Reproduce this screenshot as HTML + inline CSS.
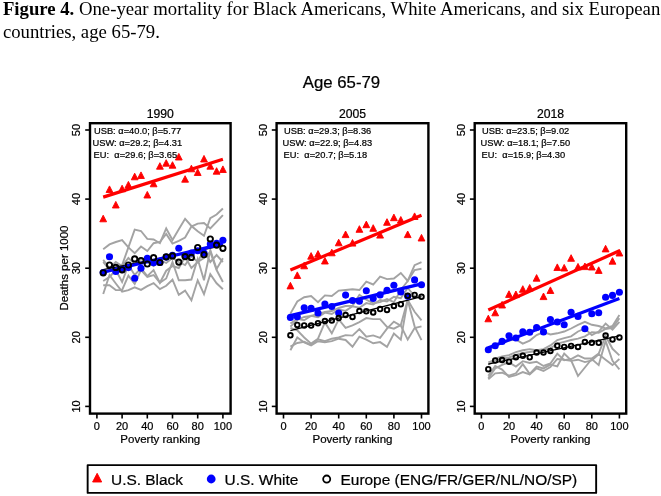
<!DOCTYPE html>
<html><head><meta charset="utf-8"><title>Figure 4</title>
<style>html,body{margin:0;padding:0;background:#fff}svg{display:block}text{font-family:"Liberation Sans",sans-serif;fill:#000;stroke:#000;stroke-width:0.22px}.cap{font-family:"Liberation Serif",serif;font-size:18.73px;fill:#000;stroke:none}.tk{font-size:11px}.ax{font-size:11.5px}.an{font-size:9.3px}.pt{font-size:12.2px}.lg{font-size:15.45px}</style></head><body>
<svg width="661" height="496" viewBox="0 0 661 496">
<rect width="661" height="496" fill="#fff"/>
<text class="cap" x="2.9" y="15.4"><tspan font-weight="bold">Figure 4.</tspan> One-year mortality for Black Americans, White Americans, and six European</text>
<text class="cap" x="2.9" y="38.0">countries, age 65-79.</text>
<text x="341.5" y="87.8" text-anchor="middle" font-size="16.8">Age 65-79</text>
<g>
<text class="pt" x="160.3" y="117.7" text-anchor="middle">1990</text>
<polyline points="103.2,249.2 109.5,244.4 115.8,242.0 122.1,240.1 128.4,247.4 134.7,253.1 141.0,246.5 147.3,251.0 153.6,243.2 159.9,242.0 166.2,233.9 172.5,243.6 178.8,240.9 185.1,237.5 191.4,226.6 197.7,223.6 204.0,223.0 210.3,228.5 216.6,221.8 222.9,215.1" fill="none" stroke="#a3a3a3" stroke-width="1.9" stroke-linejoin="miter"/>
<polyline points="103.2,262.0 109.5,270.0 115.8,268.0 122.1,265.0 128.4,247.4 134.7,229.6 141.0,231.0 147.3,238.9 153.6,239.5 159.9,243.2 166.2,228.5 172.5,240.0 178.8,229.3 185.1,218.8 191.4,226.0 197.7,231.2 204.0,235.7 210.3,218.2 216.6,214.5 222.9,208.5" fill="none" stroke="#a3a3a3" stroke-width="1.9" stroke-linejoin="miter"/>
<polyline points="103.2,294.0 109.5,275.0 115.8,283.5 122.1,291.7 128.4,290.1 134.7,287.4 141.0,289.9 147.3,286.2 153.6,283.1 159.9,289.2 166.2,285.8 172.5,279.7 178.8,294.8 185.1,290.6 191.4,300.2 197.7,280.3 204.0,294.2 210.3,274.2 216.6,283.3 222.9,289.3" fill="none" stroke="#a3a3a3" stroke-width="1.9" stroke-linejoin="miter"/>
<polyline points="103.2,285.3 109.5,285.3 115.8,290.1 122.1,290.0 128.4,275.6 134.7,284.0 141.0,270.0 147.3,277.0 153.6,275.0 159.9,282.7 166.2,278.5 172.5,262.0 178.8,280.2 185.1,280.2 191.4,279.5 197.7,259.0 204.0,280.2 210.3,250.0 216.6,269.0 222.9,258.3" fill="none" stroke="#a3a3a3" stroke-width="1.9" stroke-linejoin="miter"/>
<polyline points="103.2,281.0 109.5,277.0 115.8,270.0 122.1,282.0 128.4,265.0 134.7,275.0 141.0,268.3 147.3,276.2 153.6,270.1 159.9,282.8 166.2,270.7 172.5,266.0 178.8,268.0 185.1,257.0 191.4,268.0 197.7,262.0 204.0,258.0 210.3,252.0 216.6,270.0 222.9,282.0" fill="none" stroke="#a3a3a3" stroke-width="1.9" stroke-linejoin="miter"/>
<polyline points="103.2,259.8 109.5,268.0 115.8,262.0 122.1,266.0 128.4,258.0 134.7,264.0 141.0,259.0 147.3,262.0 153.6,266.0 159.9,260.0 166.2,263.0 172.5,258.0 178.8,262.0 185.1,265.0 191.4,256.0 197.7,262.0 204.0,250.0 210.3,262.0 216.6,255.0 222.9,262.0" fill="none" stroke="#a3a3a3" stroke-width="1.9" stroke-linejoin="miter"/>
<line x1="103.2" y1="197.1" x2="222.9" y2="159.2" stroke="#ff0000" stroke-width="3.2"/>
<path d="M99.8 221.8L106.6 221.8L103.2 215.2Z" fill="#ff0000" stroke="#ff0000" stroke-width="0.9" stroke-linejoin="round"/>
<path d="M106.1 192.5L112.9 192.5L109.5 185.9Z" fill="#ff0000" stroke="#ff0000" stroke-width="0.9" stroke-linejoin="round"/>
<path d="M112.4 208.0L119.2 208.0L115.8 201.4Z" fill="#ff0000" stroke="#ff0000" stroke-width="0.9" stroke-linejoin="round"/>
<path d="M118.7 191.8L125.5 191.8L122.1 185.2Z" fill="#ff0000" stroke="#ff0000" stroke-width="0.9" stroke-linejoin="round"/>
<path d="M125.0 188.0L131.8 188.0L128.4 181.4Z" fill="#ff0000" stroke="#ff0000" stroke-width="0.9" stroke-linejoin="round"/>
<path d="M131.3 179.8L138.1 179.8L134.7 173.2Z" fill="#ff0000" stroke="#ff0000" stroke-width="0.9" stroke-linejoin="round"/>
<path d="M137.6 178.5L144.4 178.5L141.0 171.9Z" fill="#ff0000" stroke="#ff0000" stroke-width="0.9" stroke-linejoin="round"/>
<path d="M143.9 198.0L150.7 198.0L147.3 191.4Z" fill="#ff0000" stroke="#ff0000" stroke-width="0.9" stroke-linejoin="round"/>
<path d="M150.2 186.8L157.0 186.8L153.6 180.2Z" fill="#ff0000" stroke="#ff0000" stroke-width="0.9" stroke-linejoin="round"/>
<path d="M156.5 169.2L163.3 169.2L159.9 162.7Z" fill="#ff0000" stroke="#ff0000" stroke-width="0.9" stroke-linejoin="round"/>
<path d="M162.8 166.2L169.6 166.2L166.2 159.7Z" fill="#ff0000" stroke="#ff0000" stroke-width="0.9" stroke-linejoin="round"/>
<path d="M169.1 168.2L175.9 168.2L172.5 161.7Z" fill="#ff0000" stroke="#ff0000" stroke-width="0.9" stroke-linejoin="round"/>
<path d="M175.4 160.0L182.2 160.0L178.8 153.4Z" fill="#ff0000" stroke="#ff0000" stroke-width="0.9" stroke-linejoin="round"/>
<path d="M181.7 182.2L188.5 182.2L185.1 175.7Z" fill="#ff0000" stroke="#ff0000" stroke-width="0.9" stroke-linejoin="round"/>
<path d="M188.0 171.8L194.8 171.8L191.4 165.2Z" fill="#ff0000" stroke="#ff0000" stroke-width="0.9" stroke-linejoin="round"/>
<path d="M194.3 175.5L201.1 175.5L197.7 168.9Z" fill="#ff0000" stroke="#ff0000" stroke-width="0.9" stroke-linejoin="round"/>
<path d="M200.6 162.0L207.4 162.0L204.0 155.4Z" fill="#ff0000" stroke="#ff0000" stroke-width="0.9" stroke-linejoin="round"/>
<path d="M206.9 169.2L213.7 169.2L210.3 162.7Z" fill="#ff0000" stroke="#ff0000" stroke-width="0.9" stroke-linejoin="round"/>
<path d="M213.2 174.2L220.0 174.2L216.6 167.7Z" fill="#ff0000" stroke="#ff0000" stroke-width="0.9" stroke-linejoin="round"/>
<path d="M219.5 172.5L226.3 172.5L222.9 165.9Z" fill="#ff0000" stroke="#ff0000" stroke-width="0.9" stroke-linejoin="round"/>
<line x1="103.2" y1="269.7" x2="222.9" y2="245.7" stroke="#000000" stroke-width="1.3"/>
<line x1="103.2" y1="272.2" x2="222.9" y2="243.9" stroke="#0000ff" stroke-width="3.2"/>
<circle cx="103.2" cy="272.5" r="3.55" fill="#0000ff"/>
<circle cx="109.5" cy="256.7" r="3.55" fill="#0000ff"/>
<circle cx="115.8" cy="271.4" r="3.55" fill="#0000ff"/>
<circle cx="122.1" cy="269.8" r="3.55" fill="#0000ff"/>
<circle cx="128.4" cy="267.6" r="3.55" fill="#0000ff"/>
<circle cx="134.7" cy="278.3" r="3.55" fill="#0000ff"/>
<circle cx="141.0" cy="268.2" r="3.55" fill="#0000ff"/>
<circle cx="147.3" cy="258.3" r="3.55" fill="#0000ff"/>
<circle cx="153.6" cy="262.8" r="3.55" fill="#0000ff"/>
<circle cx="159.9" cy="262.5" r="3.55" fill="#0000ff"/>
<circle cx="166.2" cy="257.1" r="3.55" fill="#0000ff"/>
<circle cx="172.5" cy="255.3" r="3.55" fill="#0000ff"/>
<circle cx="178.8" cy="248.3" r="3.55" fill="#0000ff"/>
<circle cx="185.1" cy="255.5" r="3.55" fill="#0000ff"/>
<circle cx="191.4" cy="253.0" r="3.55" fill="#0000ff"/>
<circle cx="197.7" cy="250.8" r="3.55" fill="#0000ff"/>
<circle cx="204.0" cy="253.0" r="3.55" fill="#0000ff"/>
<circle cx="210.3" cy="244.1" r="3.55" fill="#0000ff"/>
<circle cx="216.6" cy="243.4" r="3.55" fill="#0000ff"/>
<circle cx="222.9" cy="240.3" r="3.55" fill="#0000ff"/>
<circle cx="103.2" cy="272.8" r="2.65" fill="none" stroke="#000" stroke-width="1.9"/>
<circle cx="109.5" cy="265.0" r="2.65" fill="none" stroke="#000" stroke-width="1.9"/>
<circle cx="115.8" cy="267.4" r="2.65" fill="none" stroke="#000" stroke-width="1.9"/>
<circle cx="122.1" cy="269.8" r="2.65" fill="none" stroke="#000" stroke-width="1.9"/>
<circle cx="128.4" cy="265.0" r="2.65" fill="none" stroke="#000" stroke-width="1.9"/>
<circle cx="134.7" cy="258.9" r="2.65" fill="none" stroke="#000" stroke-width="1.9"/>
<circle cx="141.0" cy="260.5" r="2.65" fill="none" stroke="#000" stroke-width="1.9"/>
<circle cx="147.3" cy="264.0" r="2.65" fill="none" stroke="#000" stroke-width="1.9"/>
<circle cx="153.6" cy="257.7" r="2.65" fill="none" stroke="#000" stroke-width="1.9"/>
<circle cx="159.9" cy="262.5" r="2.65" fill="none" stroke="#000" stroke-width="1.9"/>
<circle cx="166.2" cy="256.8" r="2.65" fill="none" stroke="#000" stroke-width="1.9"/>
<circle cx="172.5" cy="255.9" r="2.65" fill="none" stroke="#000" stroke-width="1.9"/>
<circle cx="178.8" cy="262.1" r="2.65" fill="none" stroke="#000" stroke-width="1.9"/>
<circle cx="185.1" cy="256.6" r="2.65" fill="none" stroke="#000" stroke-width="1.9"/>
<circle cx="191.4" cy="257.4" r="2.65" fill="none" stroke="#000" stroke-width="1.9"/>
<circle cx="197.7" cy="247.5" r="2.65" fill="none" stroke="#000" stroke-width="1.9"/>
<circle cx="204.0" cy="254.7" r="2.65" fill="none" stroke="#000" stroke-width="1.9"/>
<circle cx="210.3" cy="239.0" r="2.65" fill="none" stroke="#000" stroke-width="1.9"/>
<circle cx="216.6" cy="245.1" r="2.65" fill="none" stroke="#000" stroke-width="1.9"/>
<circle cx="222.9" cy="248.3" r="2.65" fill="none" stroke="#000" stroke-width="1.9"/>
<rect x="90.0" y="123.2" width="140.6" height="290.4" fill="none" stroke="#000" stroke-width="2.4"/>
<line x1="85.2" y1="406.4" x2="90.0" y2="406.4" stroke="#000" stroke-width="1.6"/>
<text class="tk" transform="translate(80.4 406.4) rotate(-90)" text-anchor="middle">10</text>
<line x1="85.2" y1="337.3" x2="90.0" y2="337.3" stroke="#000" stroke-width="1.6"/>
<text class="tk" transform="translate(80.4 337.3) rotate(-90)" text-anchor="middle">20</text>
<line x1="85.2" y1="268.2" x2="90.0" y2="268.2" stroke="#000" stroke-width="1.6"/>
<text class="tk" transform="translate(80.4 268.2) rotate(-90)" text-anchor="middle">30</text>
<line x1="85.2" y1="199.1" x2="90.0" y2="199.1" stroke="#000" stroke-width="1.6"/>
<text class="tk" transform="translate(80.4 199.1) rotate(-90)" text-anchor="middle">40</text>
<line x1="85.2" y1="130.0" x2="90.0" y2="130.0" stroke="#000" stroke-width="1.6"/>
<text class="tk" transform="translate(80.4 130.0) rotate(-90)" text-anchor="middle">50</text>
<line x1="96.9" y1="413.6" x2="96.9" y2="418.5" stroke="#000" stroke-width="1.6"/>
<text class="tk" x="96.9" y="429.8" text-anchor="middle">0</text>
<line x1="122.1" y1="413.6" x2="122.1" y2="418.5" stroke="#000" stroke-width="1.6"/>
<text class="tk" x="122.1" y="429.8" text-anchor="middle">20</text>
<line x1="147.3" y1="413.6" x2="147.3" y2="418.5" stroke="#000" stroke-width="1.6"/>
<text class="tk" x="147.3" y="429.8" text-anchor="middle">40</text>
<line x1="172.5" y1="413.6" x2="172.5" y2="418.5" stroke="#000" stroke-width="1.6"/>
<text class="tk" x="172.5" y="429.8" text-anchor="middle">60</text>
<line x1="197.7" y1="413.6" x2="197.7" y2="418.5" stroke="#000" stroke-width="1.6"/>
<text class="tk" x="197.7" y="429.8" text-anchor="middle">80</text>
<line x1="222.9" y1="413.6" x2="222.9" y2="418.5" stroke="#000" stroke-width="1.6"/>
<text class="tk" x="222.9" y="429.8" text-anchor="middle">100</text>
<text class="ax" x="160.3" y="442.6" text-anchor="middle">Poverty ranking</text>
<text class="an" x="94.0" y="134" xml:space="preserve">USB: α=40.0; β=5.77</text>
<text class="an" x="92.5" y="146" xml:space="preserve">USW: α=29.2; β=4.31</text>
<text class="an" x="93.6" y="158" xml:space="preserve">EU:  α=29.6; β=3.65</text>
</g>
<g>
<text class="pt" x="352.5" y="117.7" text-anchor="middle">2005</text>
<polyline points="290.4,313.6 297.3,301.5 304.2,297.2 311.1,296.0 318.0,302.1 324.9,295.4 331.8,296.0 338.7,290.6 345.6,290.0 352.5,289.3 359.4,290.0 366.3,281.7 373.2,284.5 380.1,276.6 387.0,279.1 393.9,278.5 400.8,273.0 407.7,280.9 414.6,265.1 421.5,262.1" fill="none" stroke="#a3a3a3" stroke-width="1.9" stroke-linejoin="miter"/>
<polyline points="290.4,326.6 297.3,320.0 304.2,317.0 311.1,316.0 318.0,314.0 324.9,312.0 331.8,311.0 338.7,308.0 345.6,306.0 352.5,305.7 359.4,294.8 366.3,299.7 373.2,303.3 380.1,302.1 387.0,299.1 393.9,302.1 400.8,290.0 407.7,281.0 414.6,270.0 421.5,268.8" fill="none" stroke="#a3a3a3" stroke-width="1.9" stroke-linejoin="miter"/>
<polyline points="290.4,323.5 297.3,318.9 304.2,320.3 311.1,315.8 318.0,317.2 324.9,312.6 331.8,314.0 338.7,309.4 345.6,310.9 352.5,306.3 359.4,307.7 366.3,303.1 373.2,304.6 380.1,300.0 387.0,301.4 393.9,296.8 400.8,298.2 407.7,288.0 414.6,296.0 421.5,299.0" fill="none" stroke="#a3a3a3" stroke-width="1.9" stroke-linejoin="miter"/>
<polyline points="290.4,327.8 297.3,330.3 304.2,337.5 311.1,343.6 318.0,338.7 324.9,322.4 331.8,333.3 338.7,319.4 345.6,327.8 352.5,325.3 359.4,322.1 366.3,318.1 373.2,319.1 380.1,319.1 387.0,326.9 393.9,328.7 400.8,325.1 407.7,300.0 414.6,311.8 421.5,320.3" fill="none" stroke="#a3a3a3" stroke-width="1.9" stroke-linejoin="miter"/>
<polyline points="290.4,346.6 297.3,343.0 304.2,341.8 311.1,344.8 318.0,339.3 324.9,341.2 331.8,338.7 338.7,337.5 345.6,335.1 352.5,335.6 359.4,329.0 366.3,336.6 373.2,335.4 380.1,337.8 387.0,328.7 393.9,321.7 400.8,325.7 407.7,339.6 414.6,328.1 421.5,326.3" fill="none" stroke="#a3a3a3" stroke-width="1.9" stroke-linejoin="miter"/>
<polyline points="290.4,350.2 297.3,337.5 304.2,342.4 311.1,345.4 318.0,341.2 324.9,342.4 331.8,341.2 338.7,338.7 345.6,340.0 352.5,346.8 359.4,336.6 366.3,339.6 373.2,343.3 380.1,342.1 387.0,346.9 393.9,333.6 400.8,339.6 407.7,300.0 414.6,326.3 421.5,340.2" fill="none" stroke="#a3a3a3" stroke-width="1.9" stroke-linejoin="miter"/>
<line x1="290.4" y1="270.1" x2="421.5" y2="215.3" stroke="#ff0000" stroke-width="3.2"/>
<path d="M287.0 288.9L293.8 288.9L290.4 282.3Z" fill="#ff0000" stroke="#ff0000" stroke-width="0.9" stroke-linejoin="round"/>
<path d="M293.9 278.5L300.7 278.5L297.3 271.9Z" fill="#ff0000" stroke="#ff0000" stroke-width="0.9" stroke-linejoin="round"/>
<path d="M300.8 268.8L307.6 268.8L304.2 262.2Z" fill="#ff0000" stroke="#ff0000" stroke-width="0.9" stroke-linejoin="round"/>
<path d="M307.7 259.2L314.5 259.2L311.1 252.6Z" fill="#ff0000" stroke="#ff0000" stroke-width="0.9" stroke-linejoin="round"/>
<path d="M314.6 257.2L321.4 257.2L318.0 250.6Z" fill="#ff0000" stroke="#ff0000" stroke-width="0.9" stroke-linejoin="round"/>
<path d="M321.5 264.0L328.3 264.0L324.9 257.4Z" fill="#ff0000" stroke="#ff0000" stroke-width="0.9" stroke-linejoin="round"/>
<path d="M328.4 255.8L335.2 255.8L331.8 249.2Z" fill="#ff0000" stroke="#ff0000" stroke-width="0.9" stroke-linejoin="round"/>
<path d="M335.3 245.8L342.1 245.8L338.7 239.2Z" fill="#ff0000" stroke="#ff0000" stroke-width="0.9" stroke-linejoin="round"/>
<path d="M342.2 237.6L349.0 237.6L345.6 231.0Z" fill="#ff0000" stroke="#ff0000" stroke-width="0.9" stroke-linejoin="round"/>
<path d="M349.1 246.1L355.9 246.1L352.5 239.5Z" fill="#ff0000" stroke="#ff0000" stroke-width="0.9" stroke-linejoin="round"/>
<path d="M356.0 232.3L362.8 232.3L359.4 225.7Z" fill="#ff0000" stroke="#ff0000" stroke-width="0.9" stroke-linejoin="round"/>
<path d="M362.9 227.7L369.7 227.7L366.3 221.1Z" fill="#ff0000" stroke="#ff0000" stroke-width="0.9" stroke-linejoin="round"/>
<path d="M369.8 231.3L376.6 231.3L373.2 224.7Z" fill="#ff0000" stroke="#ff0000" stroke-width="0.9" stroke-linejoin="round"/>
<path d="M376.7 238.1L383.5 238.1L380.1 231.5Z" fill="#ff0000" stroke="#ff0000" stroke-width="0.9" stroke-linejoin="round"/>
<path d="M383.6 225.3L390.4 225.3L387.0 218.7Z" fill="#ff0000" stroke="#ff0000" stroke-width="0.9" stroke-linejoin="round"/>
<path d="M390.5 220.7L397.3 220.7L393.9 214.1Z" fill="#ff0000" stroke="#ff0000" stroke-width="0.9" stroke-linejoin="round"/>
<path d="M397.4 223.1L404.2 223.1L400.8 216.5Z" fill="#ff0000" stroke="#ff0000" stroke-width="0.9" stroke-linejoin="round"/>
<path d="M404.3 237.6L411.1 237.6L407.7 231.0Z" fill="#ff0000" stroke="#ff0000" stroke-width="0.9" stroke-linejoin="round"/>
<path d="M411.2 219.5L418.0 219.5L414.6 212.9Z" fill="#ff0000" stroke="#ff0000" stroke-width="0.9" stroke-linejoin="round"/>
<path d="M418.1 241.0L424.9 241.0L421.5 234.4Z" fill="#ff0000" stroke="#ff0000" stroke-width="0.9" stroke-linejoin="round"/>
<line x1="290.4" y1="330.7" x2="421.5" y2="296.7" stroke="#000000" stroke-width="1.3"/>
<line x1="290.4" y1="315.6" x2="421.5" y2="283.9" stroke="#0000ff" stroke-width="3.2"/>
<circle cx="290.4" cy="317.4" r="3.55" fill="#0000ff"/>
<circle cx="297.3" cy="316.7" r="3.55" fill="#0000ff"/>
<circle cx="304.2" cy="307.7" r="3.55" fill="#0000ff"/>
<circle cx="311.1" cy="308.4" r="3.55" fill="#0000ff"/>
<circle cx="318.0" cy="313.0" r="3.55" fill="#0000ff"/>
<circle cx="324.9" cy="304.1" r="3.55" fill="#0000ff"/>
<circle cx="331.8" cy="306.5" r="3.55" fill="#0000ff"/>
<circle cx="338.7" cy="313.0" r="3.55" fill="#0000ff"/>
<circle cx="345.6" cy="295.1" r="3.55" fill="#0000ff"/>
<circle cx="352.5" cy="300.5" r="3.55" fill="#0000ff"/>
<circle cx="359.4" cy="301.2" r="3.55" fill="#0000ff"/>
<circle cx="366.3" cy="290.8" r="3.55" fill="#0000ff"/>
<circle cx="373.2" cy="298.5" r="3.55" fill="#0000ff"/>
<circle cx="380.1" cy="294.9" r="3.55" fill="#0000ff"/>
<circle cx="387.0" cy="290.3" r="3.55" fill="#0000ff"/>
<circle cx="393.9" cy="285.2" r="3.55" fill="#0000ff"/>
<circle cx="400.8" cy="292.0" r="3.55" fill="#0000ff"/>
<circle cx="407.7" cy="296.3" r="3.55" fill="#0000ff"/>
<circle cx="414.6" cy="279.9" r="3.55" fill="#0000ff"/>
<circle cx="421.5" cy="284.7" r="3.55" fill="#0000ff"/>
<circle cx="290.4" cy="335.3" r="2.30" fill="none" stroke="#000" stroke-width="1.9"/>
<circle cx="297.3" cy="324.9" r="2.30" fill="none" stroke="#000" stroke-width="1.9"/>
<circle cx="304.2" cy="325.4" r="2.30" fill="none" stroke="#000" stroke-width="1.9"/>
<circle cx="311.1" cy="325.6" r="2.30" fill="none" stroke="#000" stroke-width="1.9"/>
<circle cx="318.0" cy="323.2" r="2.30" fill="none" stroke="#000" stroke-width="1.9"/>
<circle cx="324.9" cy="321.0" r="2.30" fill="none" stroke="#000" stroke-width="1.9"/>
<circle cx="331.8" cy="320.5" r="2.30" fill="none" stroke="#000" stroke-width="1.9"/>
<circle cx="338.7" cy="318.1" r="2.30" fill="none" stroke="#000" stroke-width="1.9"/>
<circle cx="345.6" cy="315.0" r="2.30" fill="none" stroke="#000" stroke-width="1.9"/>
<circle cx="352.5" cy="316.9" r="2.30" fill="none" stroke="#000" stroke-width="1.9"/>
<circle cx="359.4" cy="311.1" r="2.30" fill="none" stroke="#000" stroke-width="1.9"/>
<circle cx="366.3" cy="311.3" r="2.30" fill="none" stroke="#000" stroke-width="1.9"/>
<circle cx="373.2" cy="312.5" r="2.30" fill="none" stroke="#000" stroke-width="1.9"/>
<circle cx="380.1" cy="309.1" r="2.30" fill="none" stroke="#000" stroke-width="1.9"/>
<circle cx="387.0" cy="309.9" r="2.30" fill="none" stroke="#000" stroke-width="1.9"/>
<circle cx="393.9" cy="306.0" r="2.30" fill="none" stroke="#000" stroke-width="1.9"/>
<circle cx="400.8" cy="304.3" r="2.30" fill="none" stroke="#000" stroke-width="1.9"/>
<circle cx="407.7" cy="295.8" r="2.30" fill="none" stroke="#000" stroke-width="1.9"/>
<circle cx="414.6" cy="294.9" r="2.30" fill="none" stroke="#000" stroke-width="1.9"/>
<circle cx="421.5" cy="296.8" r="2.30" fill="none" stroke="#000" stroke-width="1.9"/>
<rect x="276.6" y="123.2" width="151.8" height="290.4" fill="none" stroke="#000" stroke-width="2.4"/>
<line x1="271.8" y1="406.4" x2="276.6" y2="406.4" stroke="#000" stroke-width="1.6"/>
<text class="tk" transform="translate(267.0 406.4) rotate(-90)" text-anchor="middle">10</text>
<line x1="271.8" y1="337.3" x2="276.6" y2="337.3" stroke="#000" stroke-width="1.6"/>
<text class="tk" transform="translate(267.0 337.3) rotate(-90)" text-anchor="middle">20</text>
<line x1="271.8" y1="268.2" x2="276.6" y2="268.2" stroke="#000" stroke-width="1.6"/>
<text class="tk" transform="translate(267.0 268.2) rotate(-90)" text-anchor="middle">30</text>
<line x1="271.8" y1="199.1" x2="276.6" y2="199.1" stroke="#000" stroke-width="1.6"/>
<text class="tk" transform="translate(267.0 199.1) rotate(-90)" text-anchor="middle">40</text>
<line x1="271.8" y1="130.0" x2="276.6" y2="130.0" stroke="#000" stroke-width="1.6"/>
<text class="tk" transform="translate(267.0 130.0) rotate(-90)" text-anchor="middle">50</text>
<line x1="283.5" y1="413.6" x2="283.5" y2="418.5" stroke="#000" stroke-width="1.6"/>
<text class="tk" x="283.5" y="429.8" text-anchor="middle">0</text>
<line x1="311.1" y1="413.6" x2="311.1" y2="418.5" stroke="#000" stroke-width="1.6"/>
<text class="tk" x="311.1" y="429.8" text-anchor="middle">20</text>
<line x1="338.7" y1="413.6" x2="338.7" y2="418.5" stroke="#000" stroke-width="1.6"/>
<text class="tk" x="338.7" y="429.8" text-anchor="middle">40</text>
<line x1="366.3" y1="413.6" x2="366.3" y2="418.5" stroke="#000" stroke-width="1.6"/>
<text class="tk" x="366.3" y="429.8" text-anchor="middle">60</text>
<line x1="393.9" y1="413.6" x2="393.9" y2="418.5" stroke="#000" stroke-width="1.6"/>
<text class="tk" x="393.9" y="429.8" text-anchor="middle">80</text>
<line x1="421.5" y1="413.6" x2="421.5" y2="418.5" stroke="#000" stroke-width="1.6"/>
<text class="tk" x="421.5" y="429.8" text-anchor="middle">100</text>
<text class="ax" x="352.5" y="442.6" text-anchor="middle">Poverty ranking</text>
<text class="an" x="284.0" y="134" xml:space="preserve">USB: α=29.3; β=8.36</text>
<text class="an" x="282.5" y="146" xml:space="preserve">USW: α=22.9; β=4.83</text>
<text class="an" x="283.6" y="158" xml:space="preserve">EU:  α=20.7; β=5.18</text>
</g>
<g>
<text class="pt" x="550.5" y="117.7" text-anchor="middle">2018</text>
<polyline points="488.3,350.3 495.2,346.0 502.1,343.0 509.0,340.5 515.9,339.4 522.8,343.6 529.7,340.6 536.6,335.1 543.5,332.1 550.4,334.5 557.3,333.3 564.2,331.5 571.1,328.5 578.0,324.8 584.9,321.8 591.8,324.8 598.7,326.0 605.6,328.5 612.5,326.0 619.4,315.1" fill="none" stroke="#a3a3a3" stroke-width="1.9" stroke-linejoin="miter"/>
<polyline points="488.3,364.8 495.2,358.7 502.1,356.3 509.0,355.1 515.9,352.1 522.8,350.3 529.7,349.1 536.6,350.3 543.5,349.1 550.4,345.4 557.3,340.0 564.2,338.1 571.1,336.3 578.0,331.5 584.9,328.5 591.8,335.1 598.7,331.5 605.6,323.6 612.5,329.7 619.4,321.8" fill="none" stroke="#a3a3a3" stroke-width="1.9" stroke-linejoin="miter"/>
<polyline points="488.3,362.4 495.2,360.0 502.1,358.7 509.0,357.5 515.9,355.0 522.8,353.0 529.7,352.0 536.6,351.0 543.5,350.0 550.4,348.4 557.3,343.6 564.2,341.8 571.1,340.0 578.0,338.7 584.9,336.3 591.8,332.1 598.7,332.7 605.6,329.0 612.5,327.8 619.4,318.2" fill="none" stroke="#a3a3a3" stroke-width="1.9" stroke-linejoin="miter"/>
<polyline points="488.3,378.1 495.2,368.4 502.1,364.8 509.0,362.4 515.9,366.6 522.8,361.2 529.7,363.0 536.6,361.8 543.5,366.0 550.4,363.5 557.3,353.6 564.2,360.3 571.1,359.0 578.0,355.4 584.9,358.5 591.8,358.5 598.7,353.6 605.6,336.0 612.5,348.8 619.4,355.4" fill="none" stroke="#a3a3a3" stroke-width="1.9" stroke-linejoin="miter"/>
<polyline points="488.3,379.3 495.2,373.3 502.1,372.7 509.0,375.7 515.9,373.3 522.8,364.2 529.7,373.9 536.6,366.6 543.5,368.4 550.4,364.6 557.3,366.3 564.2,353.6 571.1,360.3 578.0,376.0 584.9,367.5 591.8,359.0 598.7,365.1 605.6,341.0 612.5,360.9 619.4,369.3" fill="none" stroke="#a3a3a3" stroke-width="1.9" stroke-linejoin="miter"/>
<polyline points="488.3,375.7 495.2,366.0 502.1,369.6 509.0,376.9 515.9,375.1 522.8,372.1 529.7,374.5 536.6,368.4 543.5,371.0 550.4,367.0 557.3,359.0 564.2,359.7 571.1,360.9 578.0,359.7 584.9,362.1 591.8,360.3 598.7,354.2 605.6,359.7 612.5,365.1 619.4,359.0" fill="none" stroke="#a3a3a3" stroke-width="1.9" stroke-linejoin="miter"/>
<line x1="488.3" y1="310.0" x2="619.4" y2="250.8" stroke="#ff0000" stroke-width="3.2"/>
<path d="M484.9 321.8L491.7 321.8L488.3 315.2Z" fill="#ff0000" stroke="#ff0000" stroke-width="0.9" stroke-linejoin="round"/>
<path d="M491.8 315.8L498.6 315.8L495.2 309.2Z" fill="#ff0000" stroke="#ff0000" stroke-width="0.9" stroke-linejoin="round"/>
<path d="M498.7 308.0L505.5 308.0L502.1 301.4Z" fill="#ff0000" stroke="#ff0000" stroke-width="0.9" stroke-linejoin="round"/>
<path d="M505.6 297.4L512.4 297.4L509.0 290.8Z" fill="#ff0000" stroke="#ff0000" stroke-width="0.9" stroke-linejoin="round"/>
<path d="M512.5 297.6L519.3 297.6L515.9 291.0Z" fill="#ff0000" stroke="#ff0000" stroke-width="0.9" stroke-linejoin="round"/>
<path d="M519.4 292.3L526.2 292.3L522.8 285.7Z" fill="#ff0000" stroke="#ff0000" stroke-width="0.9" stroke-linejoin="round"/>
<path d="M526.3 291.1L533.1 291.1L529.7 284.5Z" fill="#ff0000" stroke="#ff0000" stroke-width="0.9" stroke-linejoin="round"/>
<path d="M533.2 281.2L540.0 281.2L536.6 274.6Z" fill="#ff0000" stroke="#ff0000" stroke-width="0.9" stroke-linejoin="round"/>
<path d="M540.1 299.6L546.9 299.6L543.5 293.0Z" fill="#ff0000" stroke="#ff0000" stroke-width="0.9" stroke-linejoin="round"/>
<path d="M547.0 293.5L553.8 293.5L550.4 286.9Z" fill="#ff0000" stroke="#ff0000" stroke-width="0.9" stroke-linejoin="round"/>
<path d="M553.9 270.5L560.7 270.5L557.3 263.9Z" fill="#ff0000" stroke="#ff0000" stroke-width="0.9" stroke-linejoin="round"/>
<path d="M560.8 271.0L567.6 271.0L564.2 264.4Z" fill="#ff0000" stroke="#ff0000" stroke-width="0.9" stroke-linejoin="round"/>
<path d="M567.7 261.3L574.5 261.3L571.1 254.7Z" fill="#ff0000" stroke="#ff0000" stroke-width="0.9" stroke-linejoin="round"/>
<path d="M574.6 270.0L581.4 270.0L578.0 263.4Z" fill="#ff0000" stroke="#ff0000" stroke-width="0.9" stroke-linejoin="round"/>
<path d="M581.5 269.6L588.3 269.6L584.9 263.0Z" fill="#ff0000" stroke="#ff0000" stroke-width="0.9" stroke-linejoin="round"/>
<path d="M588.4 270.0L595.2 270.0L591.8 263.4Z" fill="#ff0000" stroke="#ff0000" stroke-width="0.9" stroke-linejoin="round"/>
<path d="M595.3 273.4L602.1 273.4L598.7 266.8Z" fill="#ff0000" stroke="#ff0000" stroke-width="0.9" stroke-linejoin="round"/>
<path d="M602.2 251.9L609.0 251.9L605.6 245.3Z" fill="#ff0000" stroke="#ff0000" stroke-width="0.9" stroke-linejoin="round"/>
<path d="M609.1 264.2L615.9 264.2L612.5 257.6Z" fill="#ff0000" stroke="#ff0000" stroke-width="0.9" stroke-linejoin="round"/>
<path d="M616.0 256.0L622.8 256.0L619.4 249.4Z" fill="#ff0000" stroke="#ff0000" stroke-width="0.9" stroke-linejoin="round"/>
<line x1="488.3" y1="364.1" x2="619.4" y2="335.9" stroke="#000000" stroke-width="1.3"/>
<line x1="488.3" y1="347.8" x2="619.4" y2="298.6" stroke="#0000ff" stroke-width="3.2"/>
<circle cx="488.3" cy="349.8" r="3.55" fill="#0000ff"/>
<circle cx="495.2" cy="345.7" r="3.55" fill="#0000ff"/>
<circle cx="502.1" cy="341.4" r="3.55" fill="#0000ff"/>
<circle cx="509.0" cy="335.8" r="3.55" fill="#0000ff"/>
<circle cx="515.9" cy="338.0" r="3.55" fill="#0000ff"/>
<circle cx="522.8" cy="331.7" r="3.55" fill="#0000ff"/>
<circle cx="529.7" cy="332.2" r="3.55" fill="#0000ff"/>
<circle cx="536.6" cy="327.6" r="3.55" fill="#0000ff"/>
<circle cx="543.5" cy="331.9" r="3.55" fill="#0000ff"/>
<circle cx="550.4" cy="319.6" r="3.55" fill="#0000ff"/>
<circle cx="557.3" cy="322.0" r="3.55" fill="#0000ff"/>
<circle cx="564.2" cy="324.7" r="3.55" fill="#0000ff"/>
<circle cx="571.1" cy="312.3" r="3.55" fill="#0000ff"/>
<circle cx="578.0" cy="316.4" r="3.55" fill="#0000ff"/>
<circle cx="584.9" cy="328.8" r="3.55" fill="#0000ff"/>
<circle cx="591.8" cy="313.8" r="3.55" fill="#0000ff"/>
<circle cx="598.7" cy="312.8" r="3.55" fill="#0000ff"/>
<circle cx="605.6" cy="297.3" r="3.55" fill="#0000ff"/>
<circle cx="612.5" cy="295.4" r="3.55" fill="#0000ff"/>
<circle cx="619.4" cy="292.2" r="3.55" fill="#0000ff"/>
<circle cx="488.3" cy="369.2" r="2.30" fill="none" stroke="#000" stroke-width="1.9"/>
<circle cx="495.2" cy="360.4" r="2.30" fill="none" stroke="#000" stroke-width="1.9"/>
<circle cx="502.1" cy="360.0" r="2.30" fill="none" stroke="#000" stroke-width="1.9"/>
<circle cx="509.0" cy="361.7" r="2.30" fill="none" stroke="#000" stroke-width="1.9"/>
<circle cx="515.9" cy="357.3" r="2.30" fill="none" stroke="#000" stroke-width="1.9"/>
<circle cx="522.8" cy="355.8" r="2.30" fill="none" stroke="#000" stroke-width="1.9"/>
<circle cx="529.7" cy="357.3" r="2.30" fill="none" stroke="#000" stroke-width="1.9"/>
<circle cx="536.6" cy="352.5" r="2.30" fill="none" stroke="#000" stroke-width="1.9"/>
<circle cx="543.5" cy="352.5" r="2.30" fill="none" stroke="#000" stroke-width="1.9"/>
<circle cx="550.4" cy="351.0" r="2.30" fill="none" stroke="#000" stroke-width="1.9"/>
<circle cx="557.3" cy="345.7" r="2.30" fill="none" stroke="#000" stroke-width="1.9"/>
<circle cx="564.2" cy="346.9" r="2.30" fill="none" stroke="#000" stroke-width="1.9"/>
<circle cx="571.1" cy="345.9" r="2.30" fill="none" stroke="#000" stroke-width="1.9"/>
<circle cx="578.0" cy="346.9" r="2.30" fill="none" stroke="#000" stroke-width="1.9"/>
<circle cx="584.9" cy="342.0" r="2.30" fill="none" stroke="#000" stroke-width="1.9"/>
<circle cx="591.8" cy="342.8" r="2.30" fill="none" stroke="#000" stroke-width="1.9"/>
<circle cx="598.7" cy="342.8" r="2.30" fill="none" stroke="#000" stroke-width="1.9"/>
<circle cx="605.6" cy="335.5" r="2.30" fill="none" stroke="#000" stroke-width="1.9"/>
<circle cx="612.5" cy="339.4" r="2.30" fill="none" stroke="#000" stroke-width="1.9"/>
<circle cx="619.4" cy="337.4" r="2.30" fill="none" stroke="#000" stroke-width="1.9"/>
<rect x="474.7" y="123.2" width="151.5" height="290.4" fill="none" stroke="#000" stroke-width="2.4"/>
<line x1="469.9" y1="406.4" x2="474.7" y2="406.4" stroke="#000" stroke-width="1.6"/>
<text class="tk" transform="translate(465.1 406.4) rotate(-90)" text-anchor="middle">10</text>
<line x1="469.9" y1="337.3" x2="474.7" y2="337.3" stroke="#000" stroke-width="1.6"/>
<text class="tk" transform="translate(465.1 337.3) rotate(-90)" text-anchor="middle">20</text>
<line x1="469.9" y1="268.2" x2="474.7" y2="268.2" stroke="#000" stroke-width="1.6"/>
<text class="tk" transform="translate(465.1 268.2) rotate(-90)" text-anchor="middle">30</text>
<line x1="469.9" y1="199.1" x2="474.7" y2="199.1" stroke="#000" stroke-width="1.6"/>
<text class="tk" transform="translate(465.1 199.1) rotate(-90)" text-anchor="middle">40</text>
<line x1="469.9" y1="130.0" x2="474.7" y2="130.0" stroke="#000" stroke-width="1.6"/>
<text class="tk" transform="translate(465.1 130.0) rotate(-90)" text-anchor="middle">50</text>
<line x1="481.4" y1="413.6" x2="481.4" y2="418.5" stroke="#000" stroke-width="1.6"/>
<text class="tk" x="481.4" y="429.8" text-anchor="middle">0</text>
<line x1="509.0" y1="413.6" x2="509.0" y2="418.5" stroke="#000" stroke-width="1.6"/>
<text class="tk" x="509.0" y="429.8" text-anchor="middle">20</text>
<line x1="536.6" y1="413.6" x2="536.6" y2="418.5" stroke="#000" stroke-width="1.6"/>
<text class="tk" x="536.6" y="429.8" text-anchor="middle">40</text>
<line x1="564.2" y1="413.6" x2="564.2" y2="418.5" stroke="#000" stroke-width="1.6"/>
<text class="tk" x="564.2" y="429.8" text-anchor="middle">60</text>
<line x1="591.8" y1="413.6" x2="591.8" y2="418.5" stroke="#000" stroke-width="1.6"/>
<text class="tk" x="591.8" y="429.8" text-anchor="middle">80</text>
<line x1="619.4" y1="413.6" x2="619.4" y2="418.5" stroke="#000" stroke-width="1.6"/>
<text class="tk" x="619.4" y="429.8" text-anchor="middle">100</text>
<text class="ax" x="550.5" y="442.6" text-anchor="middle">Poverty ranking</text>
<text class="an" x="482.0" y="134" xml:space="preserve">USB: α=23.5; β=9.02</text>
<text class="an" x="480.5" y="146" xml:space="preserve">USW: α=18.1; β=7.50</text>
<text class="an" x="481.6" y="158" xml:space="preserve">EU:  α=15.9; β=4.30</text>
</g>
<text class="ax" transform="translate(67.6 268) rotate(-90)" text-anchor="middle">Deaths per 1000</text>
<rect x="87.65" y="465.1" width="508.5" height="27.8" fill="#fff" stroke="#000" stroke-width="1.9" stroke-linejoin="round"/>
<path d="M92.6 482L101.7 482L97.15 473.3Z" fill="#ff0000" stroke="#ff0000" stroke-width="0.9" stroke-linejoin="round"/>
<text class="lg" x="111" y="485">U.S. Black</text>
<circle cx="211.2" cy="479" r="4.4" fill="#0000ff"/>
<text class="lg" x="224.5" y="485">U.S. White</text>
<circle cx="326.7" cy="479.05" r="3.55" fill="none" stroke="#000" stroke-width="1.8"/>
<text class="lg" x="340.5" y="485">Europe (ENG/FR/GER/NL/NO/SP)</text>
</svg></body></html>
